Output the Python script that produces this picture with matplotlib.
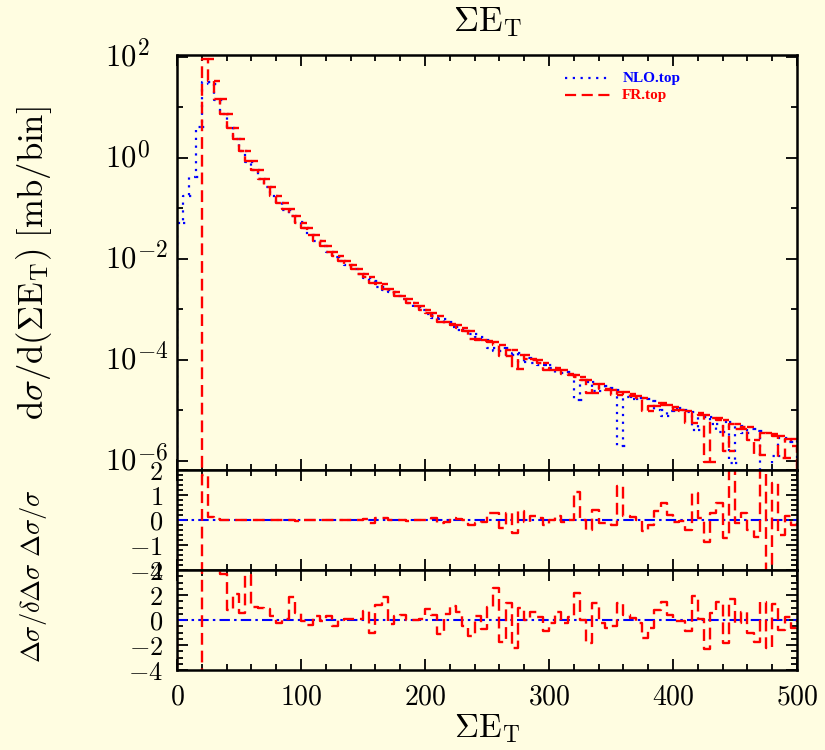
import numpy as np
import matplotlib
matplotlib.use('Agg')
import matplotlib.pyplot as plt
from matplotlib.ticker import FixedLocator, MultipleLocator, NullFormatter, FuncFormatter

plt.rcParams['mathtext.fontset'] = 'cm'
plt.rcParams['font.family'] = ['DejaVu Serif']

# ---------------- data ----------------
bin_width = 5.0
x_range = (0.0, 500.0)

# log10 of NLO.top per 5-GeV bin (None = non-positive content)
nlo_log = [-1.29, -0.75, -0.39, 0.61, 1.50, 1.46, 1.14, 0.86, 0.59, 0.36,
           0.14, -0.08, -0.25, -0.43, -0.59, -0.76, -0.89, -1.03, -1.15, -1.28,
           -1.40, -1.53, -1.64, -1.75, -1.86, -1.96, -2.04, -2.13, -2.21, -2.30,
           -2.38, -2.44, -2.55, -2.62, -2.66, -2.73, -2.80, -2.87, -2.95, -3.01,
           -3.09, -3.17, -3.20, -3.26, -3.36, -3.41, -3.44, -3.49, -3.55, -3.60,
           -3.76, -3.82, -3.76, -3.91, -3.86, -4.05, -3.96, -4.07, -4.10, -4.11,
           -4.16, -4.27, -4.25, -4.31, -4.80, -4.39, -4.43, -4.62, -4.51, -4.55,
           -4.59, -5.70, -4.73, -4.77, -4.76, -4.78, -4.82, -5.00, -5.12, -5.01,
           -4.96, -4.99, -5.03, -5.38, -5.13, -5.13, -5.27, -5.42, -5.23, -6.05,
           -5.30, -5.44, -5.37, -5.40, -6.39, None, -5.90, -5.54, -5.63, -5.61]

# log10 of FR.top per bin (None = empty bin)
fr_log = [None, None, None, None, 1.95, 1.51, 1.16, 0.87, 0.59, 0.36,
          0.14, -0.07, -0.25, -0.43, -0.59, -0.76, -0.89, -1.02, -1.15, -1.29,
          -1.40, -1.53, -1.64, -1.75, -1.86, -1.95, -2.04, -2.13, -2.21, -2.30,
          -2.37, -2.49, -2.51, -2.59, -2.66, -2.73, -2.80, -2.88, -2.94, -3.01,
          -3.08, -3.14, -3.25, -3.30, -3.32, -3.38, -3.44, -3.59, -3.61, -3.63,
          -3.65, -3.71, -3.93, -3.81, -4.19, -3.91, -3.99, -4.01, -4.06, -4.21,
          -4.16, -4.21, -4.28, -4.30, -4.34, -4.39, -4.65, -4.47, -4.57, -4.60,
          -4.69, -4.63, -4.67, -4.71, -4.75, -5.02, -4.92, -4.86, -4.89, -4.93,
          -4.99, -5.01, -5.25, -5.06, -5.10, -6.02, -5.16, -5.20, -5.80, -5.27,
          -5.36, -5.33, -5.59, -5.88, -5.44, -5.47, -5.50, -5.94, -5.57, -5.71]

# relative difference  (FR - NLO)/NLO  (upper ratio panel)
rel_diff = [-100, -100, -100, -100, 1.8, 0.13, 0.05, 0.02, 0.0, 0.01,
            -0.01, 0.02, 0.0, 0.01, 0.0, -0.01, 0.01, 0.02, 0.0, -0.02,
            0.01, 0.0, 0.01, -0.01, 0.0, 0.02, -0.01, 0.0, 0.01, 0.0,
            0.03, -0.1, 0.1, 0.08, 0.0, 0.01, 0.0, -0.02, 0.02, 0.0,
            0.02, 0.07, -0.1, -0.08, 0.1, 0.06, 0.0, -0.2, -0.12, -0.07,
            0.3, 0.28, -0.33, 0.27, -0.53, 0.37, -0.07, 0.16, 0.1, -0.2,
            0.0, 0.16, -0.07, 0.02, 1.13, 0.0, -0.4, 0.4, -0.13, -0.1,
            -0.2, 1.36, 0.16, 0.14, 0.02, -0.42, -0.2, 0.37, 0.7, 0.2,
            -0.07, -0.05, -0.4, 1.07, 0.07, -0.87, 0.3, 0.67, -0.73, 5.0,
            -0.13, 0.3, -0.4, -0.67, 8.0, -8.0, 1.5, -0.6, 0.16, -0.2]

# difference over its error (lower ratio panel)
pull = [-100, -100, -100, -100, 50, 20, 6, 3.7, 0.8, 2.1,
        0.53, 3.6, 1.07, 1.0, 0.85, 0.3, -0.2, 0.1, 1.87, 0.53,
        -0.1, -0.4, 0.3, -0.1, 0.3, -0.5, 0.0, 0.1, 0.1, 0.1,
        0.7, -1.07, 1.2, 1.87, -0.3, 0.3, 0.4, 0.0, 0.0, 0.05,
        0.85, 0.4, -1.1, 0.5, 1.1, 0.65, -0.5, -1.3, 0.3, -0.75,
        1.07, 2.53, -1.73, 1.33, -2.27, 0.93, 0.0, 0.67, 0.27, -0.85,
        -0.27, 0.67, -0.27, 0.27, 2.13, 0.0, -1.87, 1.4, -0.27, -0.67,
        -0.5, 1.33, 0.4, 0.2, -0.27, -1.47, -0.67, 0.8, 1.47, 0.4,
        -0.05, -0.05, -0.85, 1.9, 0.05, -2.35, 0.53, 1.47, -1.87, 1.65,
        -0.2, 0.67, -1.07, -1.73, 1.47, -2.27, 1.28, -0.8, 0.27, -0.67]

legend_labels = ['NLO.top', 'FR.top']
x_ticks = [0, 100, 200, 300, 400, 500]
y_decades = [2, 0, -2, -4, -6]

# ---------------- helpers ----------------
edges = np.arange(x_range[0], x_range[1] + bin_width / 2, bin_width)


def to_lin(logs):
    return np.array([0.0 if v is None else 10.0 ** v for v in logs])


def stairs_xy(vals, base=0.0):
    xs = np.repeat(edges, 2)
    ys = np.concatenate([[base], np.repeat(np.asarray(vals, float), 2), [base]])
    return xs, ys


BG = '#fffde1'
RED = '#ff0000'
BLUE = '#0000ff'
red_ls = (0, (5, 2.5))
blue_ls = (0, (1, 2.5))
dashdot = (0, (5, 2, 1.2, 2))

fig = plt.figure(figsize=(8.25, 7.5), dpi=100, facecolor=BG)
W, H = 825.0, 750.0
L, R = 177 / W, 797 / W


def ax_at(top, bottom):
    return fig.add_axes([L, 1 - bottom / H, R - L, (bottom - top) / H], facecolor=BG)


ax0 = ax_at(55, 470)
ax1 = ax_at(470, 570)
ax2 = ax_at(570, 670)

nlo = to_lin(nlo_log)
fr = to_lin(fr_log)

ax0.set_yscale('log', nonpositive='clip')
# histograms (with the overhanging horizontal bars seen in the reference)
for vals, col, ls, lw in [(nlo, BLUE, blue_ls, 1.6), (fr, RED, red_ls, 1.7)]:
    xs, ys = stairs_xy(vals)
    ax0.plot(xs, ys, color=col, ls=ls, lw=lw, solid_capstyle='butt')
    ok = vals[:-1] > 0
    ax0.hlines(vals[:-1][ok], edges[1:-1][ok], edges[2:][ok], colors=col,
               linestyles=[ls], lw=lw)

ax0.set_ylim(10 ** -6.18, 10 ** 2.03)
ax0.yaxis.set_major_locator(FixedLocator([10.0 ** d for d in y_decades]))
ax0.yaxis.set_minor_locator(FixedLocator([10.0 ** (d + 1) for d in y_decades[1:]]))
ax0.yaxis.set_minor_formatter(NullFormatter())
ax0.yaxis.set_major_formatter(NullFormatter())
# power-of-ten labels with a large exponent, as in the reference
for d in y_decades:
    ax0.annotate(r'$10$', xy=(0, 10.0 ** d), xycoords=('axes fraction', 'data'),
                 xytext=(-41, 0), textcoords='offset pixels', ha='right',
                 va='center', fontsize=22, annotation_clip=False)
    ax0.annotate(r'$%d$' % d, xy=(0, 10.0 ** d), xycoords=('axes fraction', 'data'),
                 xytext=(-40, 8), textcoords='offset pixels', ha='left',
                 va='center', fontsize=17, annotation_clip=False)

# legend (manual, placed like the reference)
ax0.plot([0.625, 0.70], [0.944, 0.944], transform=ax0.transAxes, color=BLUE,
         ls=blue_ls, lw=1.6)
ax0.plot([0.625, 0.70], [0.903, 0.903], transform=ax0.transAxes, color=RED,
         ls=red_ls, lw=1.6)
ax0.text(0.718, 0.944, legend_labels[0], transform=ax0.transAxes, color=BLUE,
         fontsize=11, fontweight='bold', family='Liberation Serif', va='center')
ax0.text(0.718, 0.903, legend_labels[1], transform=ax0.transAxes, color=RED,
         fontsize=11, fontweight='bold', family='Liberation Serif', va='center')

# ratio panels
for ax, vals, lim in [(ax1, rel_diff, 2), (ax2, pull, 4)]:
    ax.axhline(0, color=BLUE, ls=dashdot, lw=1.5)
    xs, ys = stairs_xy(vals)
    ax.plot(xs, ys, color=RED, ls=red_ls, lw=1.7)
    ax.set_ylim(-lim, lim)

ax1.yaxis.set_major_locator(MultipleLocator(1))
ax1.yaxis.set_minor_locator(MultipleLocator(0.2))
ax2.yaxis.set_major_locator(MultipleLocator(2))
ax2.yaxis.set_minor_locator(MultipleLocator(0.5))
fmt_int = FuncFormatter(lambda v, p: r'$%d$' % int(round(v)))
ax1.yaxis.set_major_formatter(fmt_int)
ax2.yaxis.set_major_formatter(fmt_int)

for ax in (ax0, ax1, ax2):
    ax.set_xlim(*x_range)
    ax.xaxis.set_major_locator(FixedLocator(x_ticks))
    ax.xaxis.set_minor_locator(MultipleLocator(20))
    ax.tick_params(which='both', direction='in', top=True, right=True, width=1.3)
    ax.tick_params(axis='y', labelsize=19, pad=10)
    ax.tick_params(axis='x', labelsize=20, pad=10)
    ax.tick_params(which='major', length=8)
    ax.tick_params(which='minor', length=4)
    for s in ax.spines.values():
        s.set_linewidth(1.8)
    if ax is not ax2:
        ax.tick_params(labelbottom=False)

ax2.xaxis.set_major_formatter(FuncFormatter(lambda v, p: r'$%d$' % int(round(v))))

# texts
fig.text((L + R) / 2, 1 - 22 / H, r'$\Sigma\mathrm{E}_{\mathrm{T}}$', ha='center',
         va='center', fontsize=25)
fig.text((L + R) / 2, 1 - 729 / H, r'$\Sigma\mathrm{E}_{\mathrm{T}}$', ha='center',
         va='center', fontsize=24)
fig.text(34 / W, 1 - 263 / H,
         r'$\mathrm{d}\sigma/\mathrm{d}(\Sigma\mathrm{E}_{\mathrm{T}})\ [\mathrm{mb/bin}]$',
         rotation=90, ha='center', va='center', fontsize=25)
fig.text(34 / W, 1 - 576 / H,
         r'$\Delta\sigma/\delta\Delta\sigma\ \Delta\sigma/\sigma$',
         rotation=90, ha='center', va='center', fontsize=19)

fig.savefig('out.png', dpi=100, facecolor=BG)
